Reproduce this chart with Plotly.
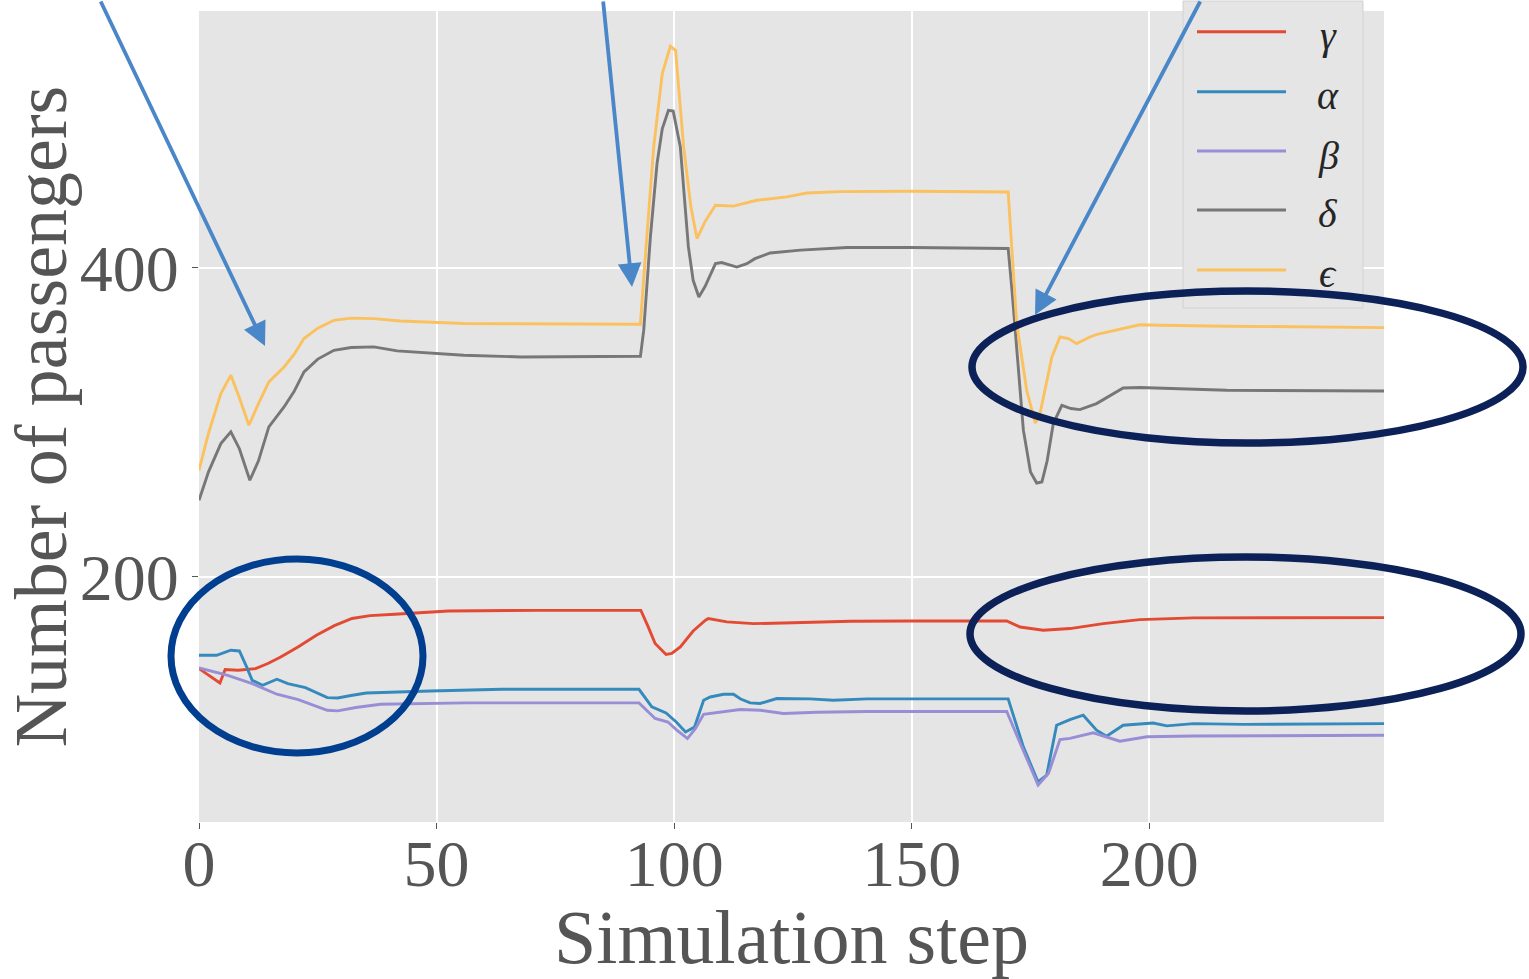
import plotly.graph_objects as go

# ---------------- data ----------------
steps_gamma = [0, 2, 4.4, 5.5, 8.2, 11.9, 14.5, 17.2, 21, 24.7, 28.5, 32.2, 36, 41.2, 52.5, 71.2, 93, 94.5, 96, 98.3,
               99.5, 101.3, 104, 106.6, 107.2, 111.1, 116.7, 123, 137.1, 149.7, 170, 172.8, 177.7, 183.3, 190.3, 198, 209.3, 249.4]
gamma = [140.7, 136.5, 131.4, 140.1, 139.6, 140.7, 144, 148.2, 155, 162.3, 168.5, 173.1, 175, 175.9, 178, 178.4, 178.4, 168, 156.9, 149.8,
         150.5, 154.7, 165, 172, 173.1, 170.9, 169.8, 170.2, 171.3, 171.5, 171.5, 167.6, 165.5, 166.6, 169.8, 172.4, 173.5, 173.7]

steps_alpha = [0, 3.7, 6.7, 8.5, 10, 11.2, 13.4, 16.4, 18.7, 22.4, 27, 29.2, 32, 35.2, 48.7, 63.7, 92.6, 95.3, 98.3, 100.5,
               102.4, 104.3, 106.2, 107.6, 110.4, 112.5, 114, 116, 118.1, 121.6, 128.6, 133.5, 140.6, 170.3, 173.5, 176.6, 178.4, 180.5, 183.3, 186.1,
               188.9, 191, 194.5, 200.8, 203.7, 209.3, 219.8, 249.4]
alpha = [149.3, 149.3, 152.6, 152.1, 142, 133.1, 129.9, 133.8, 131, 128.4, 121.9, 121.7, 123.3, 124.9, 126.2, 127.3, 127.3, 115.9, 112, 106,
         99.7, 102.9, 120.2, 122.3, 124.1, 124.1, 121, 118.5, 118.1, 121.3, 121.1, 120.2, 121.1, 121.1, 90, 67.3, 71.7, 104, 107.7, 110.5,
         100.8, 96.9, 104, 105.5, 103.6, 105.1, 104.6, 105.1]

steps_beta = [0, 5.9, 11.2, 16.4, 20.9, 24, 27, 29.2, 33, 38.2, 56.2, 92.6, 96, 98.7, 100.5, 102.8, 104.5, 106.2, 108.3, 113.9,
              118.1, 123, 130, 140.6, 170, 173.5, 176.6, 178.8, 181.2, 183.3, 188.2, 193.8, 199.5, 209.3, 249.4]
beta = [141.1, 136.4, 131, 124.1, 120.6, 117, 113.7, 113.3, 115.5, 117.6, 118.5, 118.5, 108.4, 106.1, 101, 95.4, 102, 111.1, 112, 114.2,
        113.7, 111.6, 112.4, 112.9, 112.9, 87.9, 65.3, 72.9, 94.8, 95.5, 99.1, 93.7, 96.6, 97.1, 97.5]

steps_delta = [0, 2, 4.6, 6.7, 8.5, 10.7, 12.5, 14.7, 17.9, 20, 22.1, 25, 28.4, 32, 36.8, 41.7, 55.7, 67.7, 92.9, 93.6,
               95, 96.4, 97.5, 98.8, 99.8, 101.3, 103, 104, 105.2, 106.5, 108.7, 110, 113.2, 115.3, 117, 120.2, 126.6, 136.4, 150, 170.3,
               171.1, 173.5, 175, 176.3, 177.4, 178.5, 179.8, 181.6, 183.5, 185.4, 188.9, 191.5, 194.5, 198, 205.8, 216.3, 249.4]
delta = [249.6, 268, 286.3, 293.9, 283, 262.6, 275, 297.1, 310, 320, 332.7, 341, 346.7, 348.5, 348.9, 346.3, 343.5, 342.4, 342.8, 359.7,
         420, 467.6, 490, 502, 501.6, 478.3, 413.6, 392, 381.2, 388, 402.8, 403.5, 400.6, 402.8, 406, 409.7, 411.5, 413.2, 413.2, 412.6,
         385.6, 295, 268, 260.8, 261.5, 275, 299.3, 311.1, 309, 308.3, 312.2, 317, 322.3, 322.6, 321.9, 320.8, 320.4]

steps_eps = [0, 2, 4.6, 6.7, 8.5, 10.5, 12.5, 14.7, 17.9, 20, 22.1, 25, 28.4, 32, 36.8, 42.4, 55.7, 70, 92.9, 94,
             95.7, 97.5, 99.2, 100.3, 102, 103.5, 104.8, 106.5, 108.7, 112.5, 117.4, 123.7, 127.9, 135, 150, 170.3, 172.1, 174.2, 176, 177,
             179.5, 181.2, 183, 184.7, 187.5, 189, 193.1, 198, 202.2, 216.3, 249.4]
eps = [269, 293, 318.7, 330.6, 316, 298.2, 312, 326.2, 335.9, 344, 354.3, 361, 366.1, 367.5, 367.2, 365.7, 364, 363.8, 363.6, 410,
       478.3, 525.8, 543.5, 540.9, 478.3, 440, 419, 430, 440.6, 440, 443.8, 446, 448.5, 449.4, 449.6, 449.2, 364, 320.8, 299.5, 305.8,
       342.4, 355.3, 354.3, 351, 355.3, 357, 359.7, 363.2, 362.9, 362.3, 361.4]

series_names = ["γ", "α", "β", "δ", "ϵ"]
series_colors = ["#E24A33", "#348ABD", "#988ED5", "#777777", "#FBC15E"]

x_ticks = [0, 50, 100, 150, 200]
y_ticks = [200, 400]
x_range = [0, 249.4]
y_range = [41.4, 566.3]

# ---------------- figure ----------------
W_FIG, H_FIG = 1529, 979
L, R, T, B = 199, 1384, 11, 822
PW, PH = R - L, B - T


def px2paper(x, y):
    return (x - L) / PW, (B - y) / PH


TXT = "#555555"
FONT = "Liberation Serif"

fig = go.Figure()
order = [(steps_gamma, gamma), (steps_alpha, alpha), (steps_beta, beta), (steps_delta, delta), (steps_eps, eps)]
for (xs, ys), name, col in zip(order, series_names, series_colors):
    fig.add_trace(go.Scatter(x=xs, y=ys, mode="lines", name=name,
                             line=dict(color=col, width=2.9)))

shapes = []
annotations = []

# legend (drawn manually to mimic the matplotlib legend box)
lx0, ly0 = px2paper(1183, 1)
lx1, ly1 = px2paper(1363, 308)
shapes.append(dict(type="rect", xref="paper", yref="paper", x0=lx0, x1=lx1, y0=ly1, y1=ly0,
                   fillcolor="#E5E5E5", line=dict(color="#d2d2d2", width=1), layer="above"))
leg_y = [31.7, 91.7, 151, 210, 270]
for name, col, yy in zip(series_names, series_colors, leg_y):
    a0, b0 = px2paper(1197, yy)
    a1, _ = px2paper(1286, yy)
    shapes.append(dict(type="line", xref="paper", yref="paper", x0=a0, x1=a1, y0=b0, y1=b0,
                       line=dict(color=col, width=3), layer="above"))
    tx, ty = px2paper(1328, yy + 4)
    annotations.append(dict(xref="paper", yref="paper", x=tx, y=ty, text="<i>" + name + "</i>",
                            showarrow=False, xanchor="center", yanchor="middle",
                            font=dict(family=FONT, size=40, color="#262626")))

# ellipses
def ellipse(x0, y0, x1, y1, color, width):
    p0 = px2paper(x0, y1)
    p1 = px2paper(x1, y0)
    return dict(type="circle", xref="paper", yref="paper", x0=p0[0], y0=p0[1], x1=p1[0], y1=p1[1],
                line=dict(color=color, width=width), layer="above")

shapes.append(ellipse(171, 559, 423, 753, "#003E8F", 7))
shapes.append(ellipse(972, 291, 1523, 443, "#0B2157", 7.5))
shapes.append(ellipse(970, 557, 1521, 711, "#0B2157", 7.5))

# arrows
ARROW = "#4A87C8"
for head, tail in [((265, 346), (100, -4)), ((632, 287), (603, -4)), ((1035, 315), (1201, -4))]:
    hx, hy = px2paper(*head)
    annotations.append(dict(xref="paper", yref="paper", x=hx, y=hy, text="", showarrow=True,
                            ax=tail[0] - head[0], ay=tail[1] - head[1], axref="pixel", ayref="pixel",
                            arrowhead=2, arrowsize=1.25, arrowwidth=3.8, arrowcolor=ARROW, standoff=0))

fig.update_layout(
    width=W_FIG, height=H_FIG,
    margin=dict(l=L, r=W_FIG - R, t=T, b=H_FIG - B),
    plot_bgcolor="#E5E5E5", paper_bgcolor="white",
    showlegend=False,
    shapes=shapes, annotations=annotations,
    xaxis=dict(range=x_range, tickvals=x_ticks, ticktext=[str(v) for v in x_ticks],
               showgrid=True, gridcolor="white", gridwidth=1.5, zeroline=False, showline=False,
               automargin=False,
               ticks="outside", ticklen=6, tickwidth=1.2, tickcolor=TXT,
               ticklabelstandoff=-22,
               tickfont=dict(family=FONT, size=66, color=TXT),
               title=dict(text="Simulation step", font=dict(family=FONT, size=76, color=TXT), standoff=20)),
    yaxis=dict(range=y_range, tickvals=y_ticks, ticktext=[str(v) for v in y_ticks],
               showgrid=True, gridcolor="white", gridwidth=1.5, zeroline=False, showline=False,
               automargin=False,
               ticks="outside", ticklen=6, tickwidth=1.2, tickcolor=TXT,
               tickfont=dict(family=FONT, size=66, color=TXT),
               title=dict(text="Number of passengers", font=dict(family=FONT, size=74, color=TXT), standoff=34)),
)

fig.write_html("out.html", config={"displayModeBar": False},
               post_script="document.body.style.margin='0px';document.body.style.overflow='hidden';")
